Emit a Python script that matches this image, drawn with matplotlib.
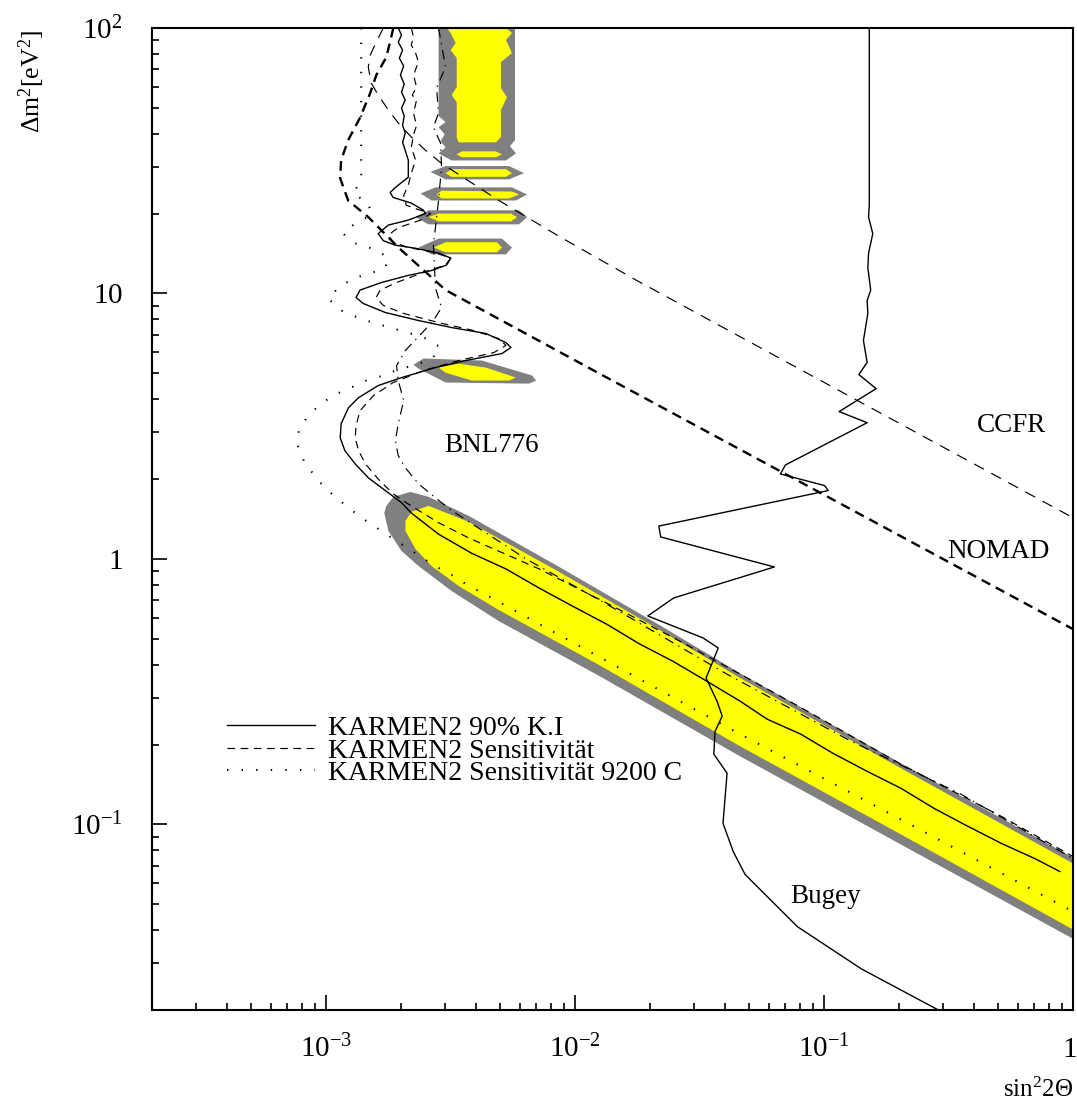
import matplotlib
matplotlib.use("Agg")
import matplotlib.pyplot as plt
from matplotlib.ticker import FixedLocator, FixedFormatter, LogLocator, NullFormatter
from matplotlib.transforms import ScaledTranslation

plt.rcParams['font.family'] = ['Liberation Serif', 'DejaVu Serif']
plt.rcParams['mathtext.fontset'] = 'custom'
plt.rcParams['mathtext.rm'] = 'Liberation Serif'
plt.rcParams['mathtext.it'] = 'Liberation Serif:italic'
plt.rcParams['mathtext.bf'] = 'Liberation Serif:bold'
plt.rcParams['lines.scale_dashes'] = False

# ---------------- allowed region (gray = outer contour, yellow = inner) ----------------
band_gray_sin2 = [1.747e-3, 1.864e-3, 2.183e-3, 2.581e-3, 3.744e-3, 8.642e-3, 2.189e-2, 4.606e-2, 0.2038, 1.0,
                  1.0, 0.2038, 4.606e-2, 1.254e-2, 4.948e-3, 3.196e-3, 2.352e-3, 2.008e-3, 1.780e-3, 1.714e-3]
band_gray_dm2 = [1.585, 1.714, 1.789, 1.714, 1.453, 0.933, 0.563, 0.371, 0.170, 0.0751,
                 0.0371, 0.0840, 0.1805, 0.362, 0.583, 0.757, 0.941, 1.072, 1.276, 1.491]
band_yellow_sin2 = [2.084e-3, 2.204e-3, 2.581e-3, 3.744e-3, 8.642e-3, 2.189e-2, 4.606e-2, 0.2038, 1.0,
                    1.0, 0.2038, 4.606e-2, 1.254e-2, 4.948e-3, 3.411e-3, 2.654e-3, 2.287e-3, 2.084e-3]
band_yellow_dm2 = [1.391, 1.504, 1.585, 1.379, 0.893, 0.540, 0.356, 0.1627, 0.0713,
                   0.0402, 0.0917, 0.197, 0.398, 0.642, 0.791, 0.941, 1.091, 1.276]

isl5_gray_sin2 = [2.245e-3, 2.464e-3, 4.224e-3, 6.723e-3, 6.979e-3, 6.538e-3, 3.022e-3, 2.352e-3]
isl5_gray_dm2 = [5.39, 5.69, 5.59, 4.91, 4.70, 4.575, 4.62, 5.21]
isl5_yellow_sin2 = [2.832e-3, 3.411e-3, 4.384e-3, 5.794e-3, 5.429e-3, 3.849e-3, 3.022e-3]
isl5_yellow_dm2 = [5.26, 5.44, 5.26, 4.82, 4.70, 4.70, 5.03]

isl15_gray_sin2 = [2.352e-3, 2.832e-3, 5.088e-3, 5.583e-3, 5.280e-3, 2.654e-3]
isl15_gray_dm2 = [14.9, 16.1, 16.1, 14.9, 14.04, 14.04]
isl15_yellow_sin2 = [2.704e-3, 3.022e-3, 4.857e-3, 5.088e-3, 4.857e-3, 3.022e-3]
isl15_yellow_dm2 = [14.9, 15.6, 15.6, 14.9, 14.3, 14.3]

isl19_gray_sin2 = [2.287e-3, 2.581e-3, 5.958e-3, 6.418e-3, 5.958e-3, 2.581e-3]
isl19_gray_dm2 = [19.4, 20.57, 20.57, 19.4, 18.21, 18.21]
isl19_yellow_sin2 = [2.581e-3, 2.832e-3, 5.532e-3, 5.848e-3, 5.532e-3, 2.832e-3]
isl19_yellow_dm2 = [19.4, 20.0, 20.0, 19.4, 18.69, 18.69]

isl24_gray_sin2 = [2.396e-3, 2.754e-3, 5.583e-3, 6.418e-3, 5.794e-3, 2.654e-3]
isl24_gray_dm2 = [23.8, 25.1, 25.1, 23.6, 22.4, 22.4]
isl24_yellow_sin2 = [2.780e-3, 2.912e-3, 5.583e-3, 5.958e-3, 5.429e-3, 2.912e-3]
isl24_yellow_dm2 = [23.6, 24.4, 24.2, 23.6, 22.8, 22.8]

isl28_gray_sin2 = [2.629e-3, 3.022e-3, 5.429e-3, 6.242e-3, 5.429e-3, 3.022e-3]
isl28_gray_dm2 = [28.7, 30.2, 30.2, 28.4, 26.9, 26.9]
isl28_yellow_sin2 = [3.022e-3, 3.196e-3, 5.280e-3, 5.583e-3, 5.280e-3, 3.196e-3]
isl28_yellow_dm2 = [28.4, 29.4, 29.4, 28.4, 27.5, 27.5]

column_gray_sin2 = [2.832e-3, 5.741e-3, 5.741e-3, 5.481e-3, 5.794e-3, 5.280e-3, 3.196e-3,
                    2.832e-3, 3.022e-3, 2.885e-3, 2.995e-3, 2.832e-3, 3.022e-3, 2.832e-3]
column_gray_dm2 = [100, 100, 37.8, 35.87, 33.7, 31.7, 31.7, 33.7, 35.5, 37.46, 39.8, 42.3, 44.2, 46.6]
column_yellow_sin2 = [3.051e-3, 3.167e-3, 3.317e-3, 3.167e-3, 3.348e-3, 3.348e-3, 3.196e-3, 3.348e-3,
                      3.348e-3, 3.411e-3, 4.811e-3, 5.041e-3, 5.041e-3, 5.330e-3, 5.041e-3, 5.041e-3,
                      5.583e-3, 5.280e-3, 5.583e-3, 5.280e-3]
column_yellow_dm2 = [100, 95.7, 87.8, 82.6, 77.1, 59.9, 55.9, 52.6, 38.8, 37.1, 37.1, 38.8, 49.1,
                     54.9, 59.4, 74.4, 80.5, 90.1, 95.7, 100]
isl33_yellow_sin2 = [3.348e-3, 3.508e-3, 4.811e-3, 5.088e-3, 4.811e-3, 3.508e-3]
isl33_yellow_dm2 = [33.4, 34.3, 34.3, 33.4, 32.6, 32.6]

# ---------------- exclusion curves ----------------
karmen_cl_sin2 = [1.95e-3, 2.01e-3, 1.95e-3, 2.03e-3, 1.97e-3, 2.05e-3, 1.99e-3, 2.06e-3, 2.01e-3,
                  2.08e-3, 2.01e-3, 2.06e-3, 2.03e-3, 2.08e-3, 2.03e-3, 2.08e-3, 2.14e-3, 2.14e-3,
                  1.90e-3, 1.81e-3, 1.86e-3, 2.20e-3, 2.46e-3, 2.51e-3, 2.14e-3, 1.78e-3, 1.62e-3, 1.70e-3,
                  1.90e-3, 2.29e-3, 2.83e-3, 3.17e-3, 3.05e-3, 2.65e-3, 2.14e-3, 1.67e-3, 1.37e-3, 1.32e-3,
                  1.41e-3, 1.73e-3, 2.35e-3, 3.20e-3, 4.38e-3, 5.28e-3, 5.53e-3, 5.09e-3, 3.64e-3, 2.75e-3,
                  2.01e-3, 1.62e-3, 1.35e-3, 1.23e-3, 1.15e-3, 1.14e-3, 1.19e-3, 1.31e-3, 1.48e-3, 1.73e-3,
                  2.01e-3, 2.20e-3, 2.83e-3, 3.85e-3, 5.28e-3, 7.18e-3, 9.75e-3, 1.34e-2, 1.82e-2, 2.47e-2,
                  3.39e-2, 4.61e-2, 5.92e-2, 8.05e-2, 0.109, 0.150, 0.204, 0.277, 0.366, 0.516, 0.702, 0.885]
karmen_cl_dm2 = [100, 94.1, 88.5, 82.6, 77.0, 71.9, 66.5, 61.5, 57.3, 53.5, 49.9, 46.6, 43.0, 40.2, 37.1,
                 34.6, 31.8, 27.4,
                 25.1, 24.0, 23.0, 21.9, 20.6, 20.0, 18.9, 18.1, 16.8, 15.8, 15.2, 14.8, 14.2, 13.6, 12.8,
                 12.2, 11.7, 11.0, 10.3, 9.66, 9.17, 8.48, 7.91, 7.44, 7.07, 6.53, 6.26, 5.94, 5.59, 5.26,
                 4.82, 4.50, 4.05, 3.71, 3.23, 2.86, 2.56, 2.28, 2.02, 1.81, 1.63, 1.49, 1.24, 1.05, 0.917,
                 0.777, 0.665, 0.568, 0.478, 0.412, 0.346, 0.291, 0.249, 0.219, 0.185, 0.158, 0.1367,
                 0.1149, 0.100, 0.0848, 0.0744, 0.0665]

karmen_sens_sin2 = [2.20e-3, 2.245e-3, 2.20e-3, 2.29e-3, 2.35e-3, 2.245e-3, 2.31e-3, 2.22e-3, 2.31e-3,
                    2.245e-3, 2.31e-3, 2.245e-3, 2.20e-3, 2.29e-3, 2.20e-3, 2.14e-3, 2.05e-3, 2.10e-3,
                    2.35e-3, 2.63e-3, 2.40e-3, 1.95e-3, 1.78e-3, 1.86e-3, 2.14e-3, 2.70e-3, 3.17e-3,
                    3.02e-3, 2.46e-3, 1.92e-3, 1.65e-3, 1.59e-3, 1.70e-3, 2.05e-3, 2.83e-3, 3.92e-3,
                    4.95e-3, 5.28e-3, 4.72e-3, 3.41e-3, 2.46e-3, 1.86e-3, 1.55e-3, 1.37e-3, 1.32e-3,
                    1.31e-3, 1.35e-3, 1.44e-3, 1.62e-3, 1.86e-3, 2.14e-3, 2.83e-3, 3.74e-3, 7.18e-3,
                    1.34e-2, 2.64e-2, 4.61e-2, 8.05e-2, 0.204, 0.516, 1.0]
karmen_sens_dm2 = [100, 92.5, 86.3, 80.5, 74.4, 66.5, 59.9, 55.9, 53.5, 47.8, 43.0, 39.5, 35.5, 31.8,
                   28.4, 25.6, 23.4, 21.5, 20.7, 20.0, 18.9, 17.7, 16.6, 15.6, 14.9, 14.3, 13.6, 12.8,
                   12.0, 11.0, 10.3, 9.66, 9.01, 8.41, 7.77, 7.25, 6.76, 6.37, 5.99, 5.59, 5.12, 4.62,
                   4.12, 3.62, 3.18, 2.86, 2.56, 2.28, 2.00, 1.76, 1.61, 1.37, 1.20, 0.917, 0.682, 0.490,
                   0.368, 0.276, 0.1684, 0.1072, 0.0757]

karmen_c_sin2 = [1.384e-3, 1.384e-3, 1.285e-3, 1.48e-3, 1.52e-3, 1.32e-3, 1.17e-3, 1.32e-3, 1.52e-3,
                 1.78e-3, 1.73e-3, 1.505e-3, 1.285e-3, 1.12e-3, 1.02e-3, 1.15e-3, 1.37e-3, 1.59e-3,
                 1.86e-3, 2.18e-3, 2.53e-3, 2.885e-3, 2.65e-3, 2.29e-3, 1.95e-3, 1.70e-3, 1.45e-3,
                 1.26e-3, 1.087e-3, 0.955e-3, 0.854e-3, 0.778e-3, 0.770e-3, 0.815e-3, 0.895e-3,
                 0.991e-3, 1.118e-3, 1.262e-3, 1.437e-3, 1.637e-3, 1.864e-3, 2.123e-3, 2.441e-3,
                 2.78e-3, 3.196e-3, 3.64e-3, 4.184e-3, 1.254e-2, 4.396e-2, 0.2038, 1.0]
karmen_c_dm2 = [100, 26.7, 23.8, 21.9, 19.7, 18.5, 16.8, 15.4, 14.8, 13.7, 12.5, 11.9, 11.4, 10.5, 9.57,
                8.63, 8.05, 7.70, 7.38, 7.07, 6.76, 6.26, 5.64, 5.39, 5.17, 4.91, 4.70, 4.42, 4.16, 3.85,
                3.49, 3.09, 2.67, 2.34, 2.07, 1.85, 1.68, 1.53, 1.40, 1.29, 1.19, 1.10, 1.01, 0.933,
                0.870, 0.805, 0.751, 0.427, 0.224, 0.1044, 0.0470]

bnl_sin2 = [2.83e-3, 3.02e-3, 2.78e-3, 2.83e-3, 2.70e-3, 2.885e-3, 2.91e-3, 2.83e-3, 2.75e-3, 2.70e-3,
            2.75e-3, 2.91e-3, 2.70e-3, 2.42e-3, 2.08e-3, 1.92e-3, 1.95e-3, 2.05e-3, 1.95e-3, 1.90e-3,
            1.95e-3, 2.08e-3, 2.35e-3, 2.75e-3, 3.20e-3, 6.36e-3, 1.34e-2, 4.08e-2, 0.1245, 0.356, 1.0]
bnl_dm2 = [100, 71.3, 59.4, 47.8, 42.3, 36.8, 29.9, 22.4, 17.7, 15.2, 10.5, 8.85, 7.91, 7.07, 6.09,
           5.35, 4.70, 3.95, 3.23, 2.79, 2.45, 2.21, 1.92, 1.70, 1.52, 1.0, 0.676, 0.368, 0.209,
           0.1298, 0.0744]

nomad_sin2 = [1.864e-3, 1.747e-3, 1.592e-3, 1.505e-3, 1.372e-3, 1.227e-3, 1.150e-3, 1.139e-3,
              1.227e-3, 1.478e-3, 1.953e-3, 3.022e-3, 1.254e-2, 1.0]
nomad_dm2 = [100, 77.7, 66.5, 56.9, 46.1, 37.8, 31.8, 27.2, 22.4, 19.4, 14.9, 10.3, 4.99, 0.544]

ccfr_sin2 = [1.698e-3, 1.592e-3, 1.505e-3, 1.478e-3, 1.519e-3, 1.621e-3, 1.779e-3, 1.953e-3,
             2.203e-3, 2.510e-3, 2.912e-3, 4.948e-3, 8.642e-3, 1.768e-2, 0.1317, 1.0]
ccfr_dm2 = [100, 88.5, 79.1, 71.3, 62.0, 55.9, 49.1, 43.8, 38.8, 34.6, 30.9, 22.4, 16.4, 11.2,
            4.02, 1.43]

bugey_sin2 = [0.152, 0.152, 0.151, 0.157, 0.151, 0.150, 0.154, 0.149, 0.150, 0.144, 0.149, 0.138,
              0.162, 0.115, 0.149, 0.070, 0.0668, 0.1005, 0.104, 0.0217, 0.0221, 0.0632, 0.0249,
              0.0196, 0.0327, 0.0376, 0.0336, 0.0372, 0.0390, 0.0365, 0.0361, 0.0408, 0.0393,
              0.0432, 0.0482, 0.0782, 0.141, 0.288]
bugey_dm2 = [100, 21.5, 19.4, 16.8, 14.2, 12.5, 10.3, 9.41, 8.41, 6.65, 5.50, 4.95, 4.38, 3.59,
             3.26, 2.26, 2.09, 1.89, 1.81, 1.33, 1.21, 0.933, 0.713, 0.610, 0.504, 0.462, 0.356,
             0.291, 0.256, 0.224, 0.184, 0.156, 0.101, 0.079, 0.0648, 0.0412, 0.0286, 0.0200]

legend_labels = ["KARMEN2 90% K.I", "KARMEN2 Sensitivität", "KARMEN2 Sensitivität 9200 C"]
region_labels = [("BNL776", 4.64e-3, 2.67), ("CCFR", 0.5665, 3.18),
                 ("NOMAD", 0.502, 1.07), ("Bugey", 0.1015, 0.0535)]

x_ticks = [1e-3, 1e-2, 1e-1, 1.0]
x_ticklabels = [r"$10^{-3}$", r"$10^{-2}$", r"$10^{-1}$", r"$1$"]
y_ticks = [0.1, 1.0, 10.0, 100.0]
y_ticklabels = [r"$10^{-1}$", r"$1$", r"$10$", r"$10^{2}$"]

GRAY = "#808080"
YELLOW = "#ffff00"

fig = plt.figure(figsize=(10.77, 11.13), dpi=100)
ax = fig.add_axes([0.14113, 0.09254, 0.85515, 0.88230])
ax.set_xscale("log")
ax.set_yscale("log")
ax.set_xlim(2e-4, 1.0)
ax.set_ylim(0.02, 100)

# allowed region: gray contour first, yellow core on top
for xs, ys in [(band_gray_sin2, band_gray_dm2), (isl5_gray_sin2, isl5_gray_dm2),
               (isl15_gray_sin2, isl15_gray_dm2), (isl19_gray_sin2, isl19_gray_dm2),
               (isl24_gray_sin2, isl24_gray_dm2), (isl28_gray_sin2, isl28_gray_dm2),
               (column_gray_sin2, column_gray_dm2)]:
    ax.fill(xs, ys, color=GRAY, lw=0, zorder=1)
for xs, ys in [(band_yellow_sin2, band_yellow_dm2), (isl5_yellow_sin2, isl5_yellow_dm2),
               (isl15_yellow_sin2, isl15_yellow_dm2), (isl19_yellow_sin2, isl19_yellow_dm2),
               (isl24_yellow_sin2, isl24_yellow_dm2), (isl28_yellow_sin2, isl28_yellow_dm2),
               (column_yellow_sin2, column_yellow_dm2), (isl33_yellow_sin2, isl33_yellow_dm2)]:
    ax.fill(xs, ys, color=YELLOW, lw=0, zorder=2)

# other experiments
ax.plot(ccfr_sin2, ccfr_dm2, color="black", lw=0.85, dashes=(8, 6), zorder=3)
ax.plot(nomad_sin2, nomad_dm2, color="black", lw=1.7, dashes=(7, 4.5), zorder=3)
ax.plot(bnl_sin2, bnl_dm2, color="black", lw=0.85, dashes=(7, 4, 1, 4), zorder=3)
ax.plot(bugey_sin2, bugey_dm2, color="black", lw=1.0, zorder=3)

# KARMEN2 curves
l_cl, = ax.plot(karmen_cl_sin2, karmen_cl_dm2, color="black", lw=1.0, zorder=4)
l_sens, = ax.plot(karmen_sens_sin2, karmen_sens_dm2, color="black", lw=0.85, dashes=(5.5, 4), zorder=4)
l_c, = ax.plot(karmen_c_sin2, karmen_c_dm2, color="black", lw=1.5, dashes=(1.0, 9.5), zorder=4)

for text, xv, yv in region_labels:
    ax.text(xv, yv, text, fontsize=19.5, ha="center", va="center", zorder=5)

leg = ax.legend([l_cl, l_sens, l_c], legend_labels, loc="upper left",
                bbox_to_anchor=(0.0814, 0.3000), frameon=False, fontsize=20,
                handlelength=3.17, handletextpad=0.47, labelspacing=-0.1,
                borderpad=0, borderaxespad=0)

# axes frame and ticks
for sp in ax.spines.values():
    sp.set_linewidth(1.5)
ax.xaxis.set_major_locator(FixedLocator(x_ticks))
ax.xaxis.set_major_formatter(FixedFormatter(x_ticklabels))
ax.yaxis.set_major_locator(FixedLocator(y_ticks))
ax.yaxis.set_major_formatter(FixedFormatter(y_ticklabels))
ax.xaxis.set_minor_locator(LogLocator(base=10, subs=range(2, 10)))
ax.yaxis.set_minor_locator(LogLocator(base=10, subs=range(2, 10)))
ax.xaxis.set_minor_formatter(NullFormatter())
ax.yaxis.set_minor_formatter(NullFormatter())
ax.tick_params(which="both", direction="in", top=False, right=False, width=1.2)
ax.tick_params(which="major", length=10.8, labelsize=21)
ax.tick_params(which="minor", length=5)
ax.tick_params(axis="x", which="major", pad=34)
ax.tick_params(axis="y", which="major", pad=21)
xlabels = ax.get_xticklabels()
plt.setp(xlabels, va="baseline")
# keep the last x label inside the canvas
xlabels[-1].set_transform(xlabels[-1].get_transform() +
                          ScaledTranslation(-4 / 100, 0, fig.dpi_scale_trans))

fig.text(32 / 1077, 1 - 30 / 1113, r"Δm$^2$[eV$^2$]", rotation=90, ha="center", va="top",
         fontsize=18.5)
fig.text(1073 / 1077, 1 - 1090 / 1113, r"sin$^2$2Θ", ha="right", va="center", fontsize=18)

fig.savefig("out.png", dpi=100)
